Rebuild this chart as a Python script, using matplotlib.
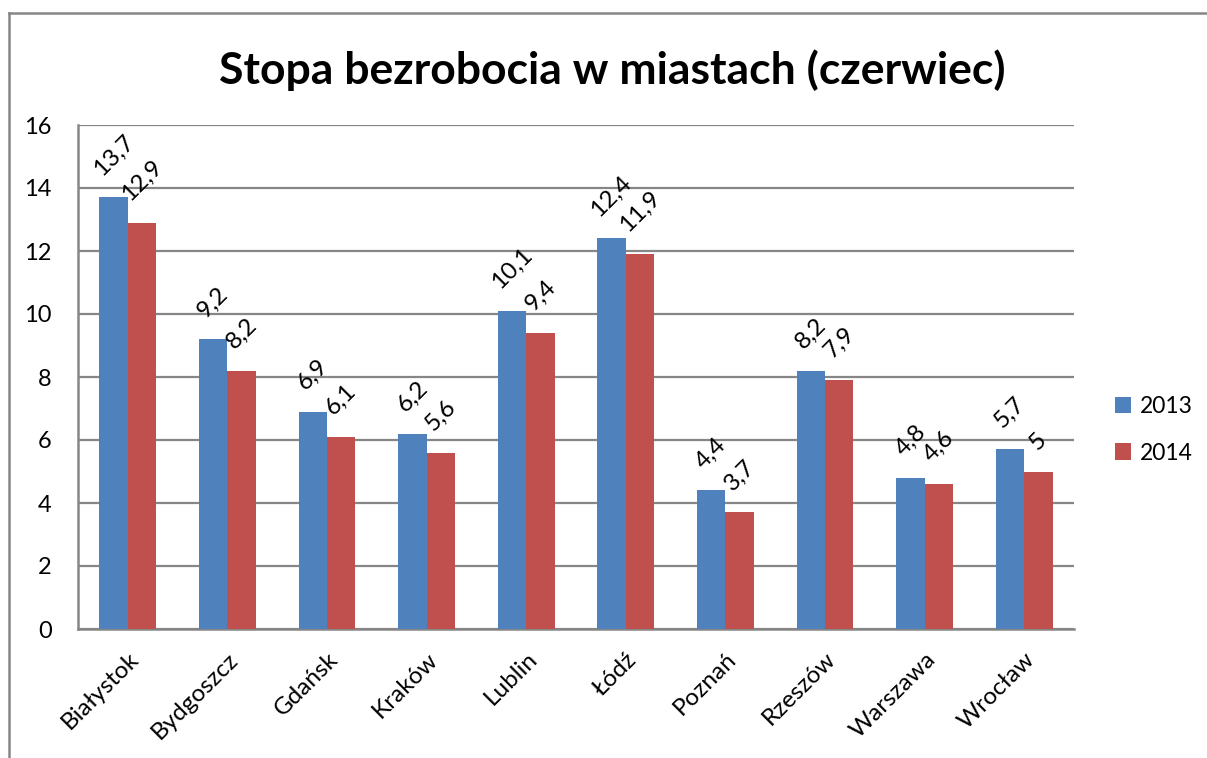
import numpy as np
import matplotlib.pyplot as plt
from matplotlib.lines import Line2D

plt.rcParams['font.family'] = ['Lato', 'DejaVu Sans']

cities = ['Białystok', 'Bydgoszcz', 'Gdańsk', 'Kraków', 'Lublin',
          'Łódź', 'Poznań', 'Rzeszów', 'Warszawa', 'Wrocław']
rate_2013 = [13.7, 9.2, 6.9, 6.2, 10.1, 12.4, 4.4, 8.2, 4.8, 5.7]
rate_2014 = [12.9, 8.2, 6.1, 5.6, 9.4, 11.9, 3.7, 7.9, 4.6, 5.0]
years = ['2013', '2014']
colors = ['#4F81BD', '#C0504D']


def fmt(v):
    s = f'{v:g}'
    return s.replace('.', ',')


fig = plt.figure(figsize=(12.07, 7.58), dpi=100)
ax = fig.add_axes([78 / 1207, 1 - 629 / 758, (1074 - 78) / 1207, (629 - 125) / 758])

x = np.arange(len(cities))
w = 0.2857
for i, (vals, c, lab) in enumerate(zip([rate_2013, rate_2014], colors, years)):
    pos = x - w / 2 + i * w
    bars = ax.bar(pos, vals, w, color=c, label=lab, zorder=3)
    for b, v in zip(bars, vals):
        ax.annotate(fmt(v), (b.get_x() + b.get_width() / 2, v),
                    xytext=(0, 13), textcoords='offset points',
                    rotation=45, ha='center', va='bottom', fontsize=17.5)

ax.set_xlim(-0.5, len(cities) - 0.5)
ax.set_ylim(0, 16)
ax.set_yticks(np.arange(0, 17, 2))
ax.yaxis.grid(True, color='#868686', lw=1.6, zorder=0)
ax.set_axisbelow(True)
for s in ['top', 'right']:
    ax.spines[s].set_visible(False)
for s in ['left', 'bottom']:
    ax.spines[s].set_color('#868686')
    ax.spines[s].set_linewidth(1.8)

ax.set_xticks(x)
ax.set_xticklabels(cities, rotation=45, ha='right', rotation_mode='anchor', fontsize=17.5)
ax.tick_params(axis='x', length=0, pad=14)
ax.tick_params(axis='y', length=0, pad=19, labelsize=17)

fig.text(612 / 1207, 1 - 70 / 758, 'Stopa bezrobocia w miastach (czerwiec)',
         ha='center', va='center', fontsize=32, fontweight='bold')

ax.legend(loc='center left', bbox_to_anchor=(1.02, 0.395), frameon=False,
          fontsize=16.5, handlelength=0.7, handleheight=0.7, labelspacing=1.1,
          handletextpad=0.4)

# chart frame
fig.add_artist(Line2D([9 / 1207, 1], [1 - 13 / 758] * 2, color='#868686', lw=1.8))
fig.add_artist(Line2D([9 / 1207] * 2, [0, 1 - 13 / 758], color='#868686', lw=1.8))

fig.savefig('out.png', dpi=100)
